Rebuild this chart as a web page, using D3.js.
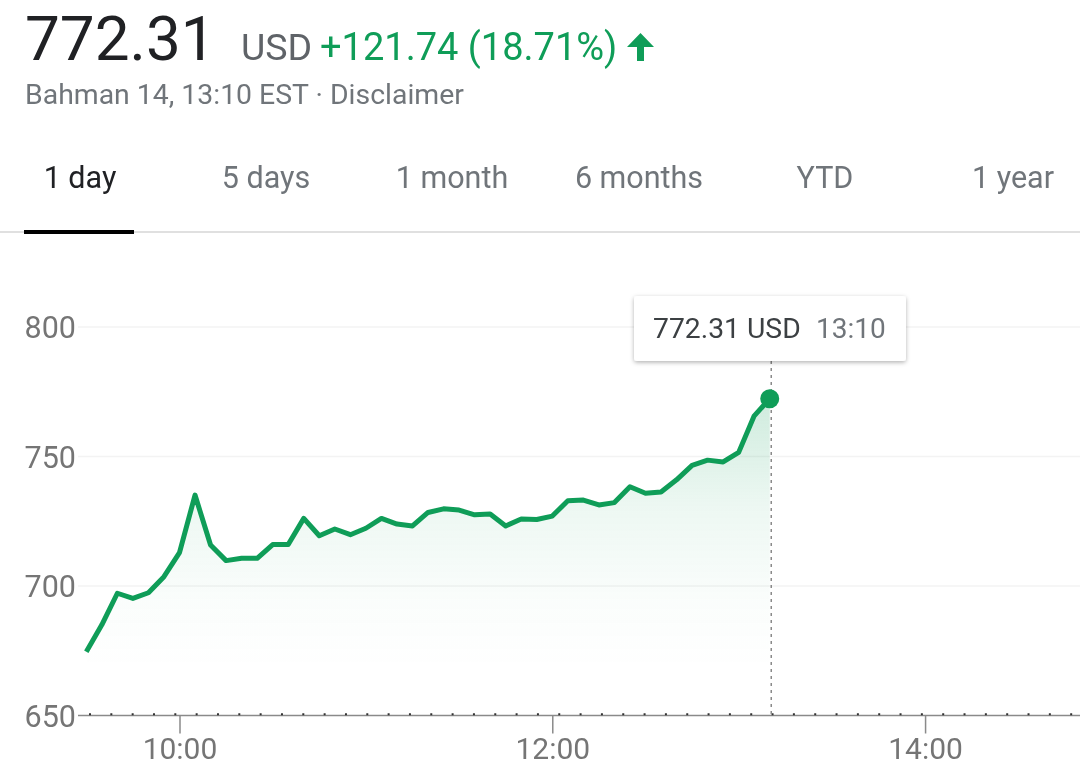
<!DOCTYPE html>
<html lang="en">
<head>
    <meta charset="UTF-8">
    <title>772.31 USD</title>
    <script src="https://d3js.org/d3.v7.min.js"></script>
    <style>
        html, body {
            margin: 0;
            padding: 0;
            background: #fff;
            overflow: hidden;
        }
        svg {
            display: block;
            filter: blur(0.4px);
        }
        text {
            font-family: Roboto, Arial, sans-serif;
        }
    </style>
</head>
<body>
    <div id="chart"></div>

    <script>
        const times = [
            "09:30", "09:35", "09:40", "09:45", "09:50", "09:55",
            "10:00", "10:05", "10:10", "10:15", "10:20", "10:25", "10:30", "10:35", "10:40", "10:45", "10:50", "10:55",
            "11:00", "11:05", "11:10", "11:15", "11:20", "11:25", "11:30", "11:35", "11:40", "11:45", "11:50", "11:55",
            "12:00", "12:05", "12:10", "12:15", "12:20", "12:25", "12:30", "12:35", "12:40", "12:45", "12:50", "12:55",
            "13:00", "13:05", "13:10"
        ];
        const prices = [
            674.6, 685, 697.2, 695.2, 697.4, 703.6,
            712.9, 735.1, 715.8, 709.8, 710.7, 710.7, 716, 716, 726.1, 719.4, 722, 719.8,
            722.3, 726.1, 723.9, 723.2, 728.4, 729.8, 729.3, 727.5, 727.8, 723.2, 725.9, 725.7,
            727, 732.9, 733.2, 731.3, 732.2, 738.3, 735.8, 736.3, 741, 746.6, 748.6, 747.9,
            751.6, 765.7, 772.31
        ];
        const yTicks = [650, 700, 750, 800];
        const xTicks = ["10:00", "12:00", "14:00"];
        const tabs = ["1 day", "5 days", "1 month", "6 months", "YTD", "1 year"];
        const tabCenters = [80, 266, 452, 639, 825, 1013];

        const width = 1080;
        const height = 773;
        const parseTime = d3.timeParse("%H:%M");
        const green = "#0f9d58";
        const grey = "#757575";

        const svg = d3.select("#chart").append("svg")
            .attr("width", width)
            .attr("height", height);

        const x = d3.scaleTime()
            .domain([parseTime("09:30"), parseTime("14:50")])
            .range([86.3, 1080.4]);
        const y = d3.scaleLinear()
            .domain([650, 800])
            .range([715.5, 327]);

        const points = times.map((t, i) => ({ time: parseTime(t), price: prices[i] }));
        const last = points[points.length - 1];

        const defs = svg.append("defs");
        const gradient = defs.append("linearGradient")
            .attr("id", "areaFill")
            .attr("gradientUnits", "userSpaceOnUse")
            .attr("x1", 0).attr("x2", 0)
            .attr("y1", y(last.price)).attr("y2", y(668));
        gradient.append("stop").attr("offset", 0).attr("stop-color", green).attr("stop-opacity", 0.2);
        gradient.append("stop").attr("offset", 0.4).attr("stop-color", green).attr("stop-opacity", 0.075);
        gradient.append("stop").attr("offset", 0.75).attr("stop-color", green).attr("stop-opacity", 0.02);
        gradient.append("stop").attr("offset", 1).attr("stop-color", green).attr("stop-opacity", 0);

        const shadow = defs.append("filter")
            .attr("id", "tipShadow")
            .attr("x", "-10%").attr("y", "-20%")
            .attr("width", "120%").attr("height", "150%");
        shadow.append("feDropShadow")
            .attr("dx", 0).attr("dy", 1.5)
            .attr("stdDeviation", 2)
            .attr("flood-color", "#000")
            .attr("flood-opacity", 0.3);

        // header
        svg.append("text").attr("x", 25).attr("y", 60)
            .attr("font-size", 62).attr("fill", "#202124").text("772.31");
        svg.append("text").attr("x", 241).attr("y", 60)
            .attr("font-size", 37.5).attr("fill", "#5f6368").text("USD");
        svg.append("text").attr("x", 320).attr("y", 60)
            .attr("font-size", 38).attr("fill", green).text("+121.74 (18.71%)");
        svg.append("path")
            .attr("transform", "translate(627,33)")
            .attr("d", "M13.5 0L27 14L17 14L17 28L10 28L10 14L0 14Z")
            .attr("fill", green);
        svg.append("text").attr("x", 25).attr("y", 104)
            .attr("font-size", 28.4).attr("fill", "#70757a")
            .text("Bahman 14, 13:10 EST · Disclaimer");

        // tabs
        svg.selectAll(".tab")
            .data(tabs)
            .enter().append("text")
            .attr("class", "tab")
            .attr("x", (d, i) => tabCenters[i])
            .attr("y", 188)
            .attr("text-anchor", "middle")
            .attr("font-size", 30.5)
            .attr("fill", (d, i) => i === 0 ? "#202124" : "#70757a")
            .text(d => d);
        svg.append("line")
            .attr("x1", 0).attr("x2", width)
            .attr("y1", 232).attr("y2", 232)
            .attr("stroke", "#e0e0e0").attr("stroke-width", 2);
        svg.append("line")
            .attr("x1", 24).attr("x2", 134)
            .attr("y1", 232).attr("y2", 232)
            .attr("stroke", "#000").attr("stroke-width", 4);

        // y axis with gridlines
        const yAxis = svg.append("g")
            .attr("transform", "translate(78,1)")
            .call(d3.axisLeft(y).tickValues(yTicks).tickSize(0).tickPadding(2));
        yAxis.select(".domain").remove();
        yAxis.selectAll("text")
            .attr("font-size", 30.5)
            .attr("font-family", "Roboto, Arial, sans-serif")
            .attr("fill", grey);

        svg.append("g")
            .selectAll("line")
            .data(yTicks.filter(d => d !== 650))
            .enter().append("line")
            .attr("x1", 78).attr("x2", width)
            .attr("y1", d => y(d)).attr("y2", d => y(d))
            .attr("stroke", "#f3f3f3").attr("stroke-width", 1.5);

        // x axis
        const xAxis = svg.append("g")
            .attr("transform", `translate(0,${y(650)})`)
            .call(d3.axisBottom(x)
                .tickValues(xTicks.map(parseTime))
                .tickFormat(d3.timeFormat("%H:%M"))
                .tickSize(18)
                .tickSizeOuter(0)
                .tickPadding(4));
        xAxis.select(".domain").remove();
        xAxis.selectAll("line").attr("stroke", "#8a8a8a").attr("stroke-width", 1.5);
        xAxis.selectAll("text")
            .attr("font-size", 30)
            .attr("font-family", "Roboto, Arial, sans-serif")
            .attr("fill", grey);

        svg.append("line")
            .attr("x1", 78).attr("x2", width)
            .attr("y1", y(650)).attr("y2", y(650))
            .attr("stroke", "#8a8a8a").attr("stroke-width", 1.5);
        svg.append("line")
            .attr("x1", 89).attr("x2", width)
            .attr("y1", y(650) - 1.2).attr("y2", y(650) - 1.2)
            .attr("stroke", "#333").attr("stroke-width", 2)
            .attr("stroke-dasharray", "2 19.33");

        // price area and line
        const area = d3.area()
            .x(d => x(d.time))
            .y0(y(650))
            .y1(d => y(d.price));
        const line = d3.line()
            .x(d => x(d.time))
            .y(d => y(d.price));

        svg.append("path")
            .datum(points)
            .attr("d", area)
            .attr("fill", "url(#areaFill)");

        svg.append("line")
            .attr("x1", x(last.time) + 1.5).attr("x2", x(last.time) + 1.5)
            .attr("y1", 361).attr("y2", y(650))
            .attr("stroke", "#8a8a8a").attr("stroke-width", 1.5)
            .attr("stroke-dasharray", "3 4");

        svg.append("path")
            .datum(points)
            .attr("d", line)
            .attr("fill", "none")
            .attr("stroke", green)
            .attr("stroke-width", 5)
            .attr("stroke-linejoin", "round");

        svg.append("circle")
            .attr("cx", x(last.time))
            .attr("cy", y(last.price))
            .attr("r", 9.5)
            .attr("fill", green);

        // tooltip
        svg.append("rect")
            .attr("x", 634).attr("y", 296)
            .attr("width", 272).attr("height", 65)
            .attr("rx", 3)
            .attr("fill", "#fff")
            .attr("filter", "url(#tipShadow)");
        svg.append("text").attr("x", 653).attr("y", 338)
            .attr("font-size", 28.3).attr("fill", "#3c4043").text("772.31 USD");
        svg.append("text").attr("x", 816).attr("y", 338)
            .attr("font-size", 28).attr("fill", "#70757a").text("13:10");
    </script>
</body>
</html>
